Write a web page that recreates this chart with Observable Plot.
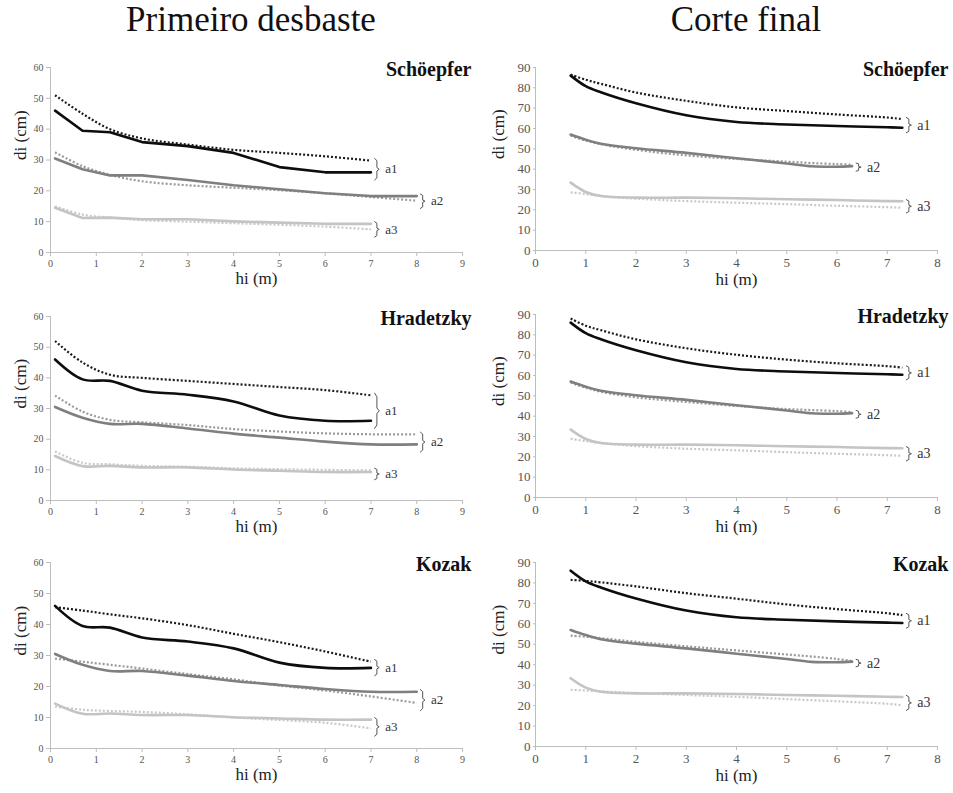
<!DOCTYPE html>
<html><head><meta charset="utf-8">
<script src="https://cdn.jsdelivr.net/npm/d3@7"></script>
<script src="https://cdn.jsdelivr.net/npm/@observablehq/plot@0.6"></script>
<style>
body{margin:0;background:#fff;width:953px;height:793px;overflow:hidden;position:relative;font-family:"Liberation Serif","Times New Roman",serif;}
.h{position:absolute;top:0px;font-size:35px;color:#111;transform:translateX(-50%);white-space:nowrap;line-height:40px;}
.p{position:absolute;}
.p svg{overflow:visible;font-family:"Liberation Serif","Times New Roman",serif !important;}
.p svg text{font-family:"Liberation Serif","Times New Roman",serif;}
</style></head><body>
<div class="h" style="left:251px">Primeiro desbaste</div>
<div class="h" style="left:746px">Corte final</div>
<div id="c"></div>
<script>
// ---- heights (m)
const hiP  = [0.1, 0.7, 1.3, 2, 3, 4, 5, 6, 7, 8];
const hiC  = [0.7, 1, 1.3, 2, 3, 4, 5, 6, 7, 7.3];
const hiC2 = [0.7, 1, 1.3, 2, 3, 4, 5, 5.5, 6, 6.3];
const groups = ["a1", "a2", "a3"];
const models = ["Schöepfer", "Hradetzky", "Kozak"];
const columns = ["Primeiro desbaste", "Corte final"];

// ---- observed diameters (cm)
const obsP_a1 = [46, 39.5, 39, 35.8, 34.5, 32.3, 27.7, 26, 26];
const obsP_a2 = [30.5, 27, 25, 25, 23.5, 21.8, 20.5, 19.2, 18.3, 18.3];
const obsP_a3 = [14.5, 11.2, 11.3, 10.8, 10.8, 10.1, 9.7, 9.3, 9.3];
const obsC_a1 = [86, 80.8, 77.8, 72.4, 66.5, 63.2, 62, 61.2, 60.6, 60.4];
const obsC_a2 = [57, 54.5, 52.5, 50.3, 48, 45.4, 42.8, 41.4, 41.2, 41.5];
const obsC_a3 = [33.4, 28.8, 26.8, 26, 26, 25.7, 25.2, 24.8, 24.3, 24.2];

// ---- estimated diameters (cm), Primeiro desbaste
const schP_a1 = [51, 45, 40, 37, 35, 33.3, 32.3, 31.2, 29.8];
const schP_a2 = [32.5, 28, 25.2, 23.1, 21.8, 21, 20.2, 19.2, 18, 16.8];
const schP_a3 = [15, 12.3, 11.3, 10.5, 10, 9.5, 9, 8.4, 7.5];
const hraP_a1 = [52, 45, 41, 40, 39, 38, 37, 36, 34.3];
const hraP_a2 = [34.2, 29, 26.3, 25.5, 24.6, 23.3, 22.5, 21.9, 21.6, 21.6];
const hraP_a3 = [16, 12.3, 11.8, 11.3, 11, 10.5, 10.2, 10, 9.8];
const kozP_a1 = [45.6, 44.5, 43.3, 42, 39.8, 37, 34.3, 31.3, 28];
const kozP_a2 = [29, 28, 27, 25.8, 24, 22.3, 20.3, 18.7, 16.8, 14.7];
const kozP_a3 = [13.5, 12.5, 12.1, 11.8, 11, 10, 9.2, 8.3, 6.5];

// ---- estimated diameters (cm), Corte final
const schC_a1 = [86.5, 84, 82, 77.7, 73.6, 70.4, 68.6, 66.9, 65.4, 64.6];
const schC_a2 = [56.5, 54, 52.3, 49.5, 46.8, 45, 43.7, 43, 42.5, 42.2];
const schC_a3 = [28.6, 27.8, 26.8, 25.5, 24.3, 23.5, 22.8, 22, 21.3, 21];
const hraC_a1 = [88, 84.5, 82.3, 77.8, 73.4, 70.2, 67.8, 66, 64.6, 63.9];
const hraC_a2 = [56.5, 54, 52, 49.3, 47, 45, 43.5, 43, 42.5, 42];
const hraC_a3 = [28.8, 27.8, 26.8, 25.3, 24, 23.2, 22.3, 21.5, 20.8, 20.5];
const kozC_a1 = [81.5, 81, 80.3, 78.3, 75, 72.3, 69.5, 67.2, 65.2, 64.3];
const kozC_a2 = [54.2, 53.7, 53, 51.2, 49, 47, 45, 44, 42.8, 41.8];
const kozC_a3 = [27.7, 27.4, 27, 26.2, 25.2, 24.3, 23.2, 22.1, 20.9, 20.2];

// ---- axis ticks
const xTicksP = [0,1,2,3,4,5,6,7,8,9];
const xTicksC = [0,1,2,3,4,5,6,7,8];
const yTicksP = [0,10,20,30,40,50,60];
const yTicksC = [0,10,20,30,40,50,60,70,80,90];

const obsByCol = {P: [obsP_a1, obsP_a2, obsP_a3], C: [obsC_a1, obsC_a2, obsC_a3]};
const estByCol = {
  P: [[schP_a1, schP_a2, schP_a3], [hraP_a1, hraP_a2, hraP_a3], [kozP_a1, kozP_a2, kozP_a3]],
  C: [[schC_a1, schC_a2, schC_a3], [hraC_a1, hraC_a2, hraC_a3], [kozC_a1, kozC_a2, kozC_a3]]
};
const gridByCol = {P: [hiP, hiP, hiP], C: [hiC, hiC2, hiC]};

const FONT = '"Liberation Serif", "Times New Roman", serif';
const solidColor = {a1: "#0d0d0d", a2: "#7f7f7f", a3: "#c4c4c4"};
const dotColor = {a1: "#1a1a1a", a2: "#9a9a9a", a3: "#c8c8c8"};

const layout = {
  P: {left: 0, width: 476, mL: 50, mR: 14, tops: [[67,252],[316,500],[562,748]], xDom: 9, xTicks: xTicksP, yDom: 60, yTicks: yTicksP, tickFs: 10, yTickSize: 4, titleDx: 9, labDx: -30, hiDy: 31, grpFs: 13},
  C: {left: 480, width: 473, mL: 55, mR: 16, tops: [[67,250],[314,497],[562,746]], xDom: 8, xTicks: xTicksC, yDom: 90, yTicks: yTicksC, tickFs: 13, yTickSize: 2, titleDx: 11, labDx: -37, hiDy: 34, grpFs: 14}
};

const toRows = (xs, ys, grp, kind) => ys.map((d, i) => ({hi: xs[i], di: d, grp, kind}));

const container = document.getElementById("c");

["P", "C"].forEach(col => {
  const L = layout[col];
  models.forEach((model, r) => {
    const [pt, pb] = L.tops[r];
    const mT = 20, mB = 45;
    const height = (pb - pt) + mT + mB;
    const rows = [];
    groups.forEach((g, gi) => {
      rows.push(...toRows(gridByCol[col][gi], estByCol[col][r][gi], g, "est"));
      rows.push(...toRows(gridByCol[col][gi], obsByCol[col][gi], g, "obs"));
    });
    // braces built from line ends
    const bracePts = [], braceLab = [];
    const padT = col === "P" ? 0.7 : 0.8, padB = 2.5, w = 0.1;
    groups.forEach(g => {
      const est = rows.filter(d => d.grp === g && d.kind === "est");
      const obs = rows.filter(d => d.grp === g && d.kind === "obs");
      const le = est[est.length - 1], lo = obs[obs.length - 1];
      const xe = Math.max(le.hi, lo.hi) + 0.08;
      const top = Math.max(le.di, lo.di) + padT, bot = Math.min(le.di, lo.di) - padB;
      const mid = (top + bot) / 2, H = top - bot;
      [[xe, top], [xe + w * 0.5, top - 0.1 * H], [xe + w * 0.5, mid + 0.08 * H], [xe + w, mid],
       [xe + w * 0.5, mid - 0.08 * H], [xe + w * 0.5, bot + 0.1 * H], [xe, bot]]
        .forEach(([x, y]) => bracePts.push({x, y, grp: g}));
      braceLab.push({x: xe + w, y: mid, text: g});
    });
    const curveObs = (col === "P" && r === 0) ? "linear" : "catmull-rom";
    const marks = [
      Plot.ruleX([0], {stroke: "#bdbdbd", strokeWidth: 1}),
      Plot.ruleY([0], {stroke: "#bdbdbd", strokeWidth: 1}),
      Plot.axisY({ticks: L.yTicks, tickSize: L.yTickSize, tickPadding: 3, stroke: "#bdbdbd", fill: "#555", fontSize: L.tickFs, fontFamily: FONT, label: null}),
      Plot.axisX({ticks: L.xTicks, tickSize: 4, tickPadding: 3, stroke: "#bdbdbd", fill: "#555", fontSize: L.tickFs, fontFamily: FONT, label: null}),
    ];
    groups.forEach(g => {
      marks.push(Plot.line(rows.filter(d => d.grp === g && d.kind === "est"),
        {x: "hi", y: "di", stroke: dotColor[g], strokeWidth: 2.2, strokeDasharray: "2 2", strokeLinecap: "butt", curve: "catmull-rom"}));
    });
    groups.forEach(g => {
      marks.push(Plot.line(rows.filter(d => d.grp === g && d.kind === "obs"),
        {x: "hi", y: "di", stroke: solidColor[g], strokeWidth: 2.6, curve: curveObs}));
    });
    marks.push(
      Plot.line(bracePts, {x: "x", y: "y", z: "grp", stroke: "#555", strokeWidth: 1, curve: "linear"}),
      Plot.text(braceLab, {x: "x", y: "y", text: "text", dx: 6, textAnchor: "start", fontSize: L.grpFs, fontFamily: FONT, fill: "#333"}),
      Plot.text([model], {frameAnchor: "top-right", dx: L.titleDx, dy: 2, lineAnchor: "middle", textAnchor: "end", fontWeight: "bold", fontSize: 20, fontFamily: FONT, fill: "#111"}),
      Plot.text(["di (cm)"], {frameAnchor: "left", dx: L.labDx, rotate: -90, fontSize: 17, fontFamily: FONT, fill: "#222"}),
      Plot.text(["hi (m)"], {frameAnchor: "bottom", dy: L.hiDy, fontSize: 17, fontFamily: FONT, fill: "#222"})
    );
    const svg = Plot.plot({
      width: L.width, height,
      marginLeft: L.mL, marginRight: L.mR, marginTop: mT, marginBottom: mB,
      style: `font-family: ${FONT}; background: transparent; overflow: visible;`,
      x: {domain: [0, L.xDom]},
      y: {domain: [0, L.yDom]},
      marks
    });
    const div = document.createElement("div");
    div.className = "p";
    div.style.left = L.left + "px";
    div.style.top = (pt - mT) + "px";
    div.appendChild(svg);
    container.appendChild(div);
  });
});
</script>
</body></html>
